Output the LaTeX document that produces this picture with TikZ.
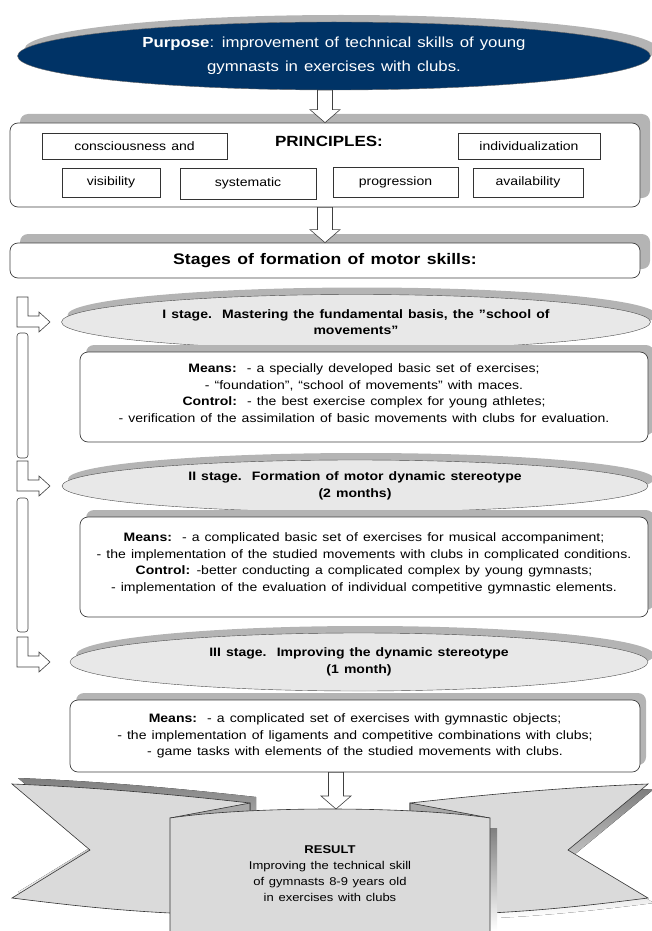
\documentclass[tikz,border=0pt]{standalone}
\usepackage{fontspec}
\setmainfont[FakeStretch=1.15, WordSpace=1.3]{Liberation Sans}
\usetikzlibrary{shapes.geometric, shadows, calc}

\definecolor{navy}{RGB}{0,51,102}
\definecolor{shade}{RGB}{180,180,180}
\definecolor{stagefill}{RGB}{232,232,232}
\definecolor{bannerfill}{RGB}{218,218,218}
\definecolor{foldfill}{RGB}{168,168,168}

\tikzset{
  hollow/.style={draw=black!75, fill=white, line width=0.6pt},
}

% hollow block arrow pointing down
\newcommand{\hollowdown}[2]{%
  \draw[hollow] let \p1=(#1), \p2=(#2) in
    (\x1-7.5pt,\y1) -- (\x1+7.5pt,\y1) -- (\x1+7.5pt,\y2+13pt) -- (\x1+15pt,\y2+13pt)
    -- (\x1,\y2) -- (\x1-15pt,\y2+13pt) -- (\x1-7.5pt,\y2+13pt) -- cycle;}

% elbow arrow on the left pointing to a stage
\newcommand{\elbowarrow}[1]{%
  \draw[hollow] let \p1=(#1.center) in
    (17pt,\y1+25pt) -- (28pt,\y1+25pt) -- (28pt,\y1+6pt) -- (39pt,\y1+6pt) -- (39pt,\y1+10pt)
    -- (50pt,\y1) -- (39pt,\y1-10pt) -- (39pt,\y1-5pt) -- (17pt,\y1-5pt) -- cycle;}

\begin{document}
\begin{tikzpicture}[x=1pt, y=-1pt,
    purpose/.style={ellipse, draw=black!60, fill=navy, text=white, align=center, inner sep=0pt,
      font=\fontsize{14.6}{24}\selectfont,
      drop shadow={shadow xshift=7pt, shadow yshift=7pt, fill=shade, opacity=1}},
    frame/.style={draw=black!75, fill=white, rounded corners=8pt, line width=0.7pt, inner sep=0pt,
      drop shadow={shadow xshift=10pt, shadow yshift=9pt, fill=shade, opacity=1}},
    principle/.style={draw=black!80, fill=white, inner sep=0pt, font=\fontsize{12.2}{15}\selectfont},
    stage/.style={ellipse, draw=black!70, fill=stagefill, align=center, inner sep=0pt,
      font=\bfseries\fontsize{12.2}{16.5}\selectfont,
      drop shadow={shadow xshift=6pt, shadow yshift=7pt, fill=shade, opacity=1}},
    means/.style={draw=black!75, fill=white, rounded corners=8pt, line width=0.7pt, align=center,
      inner sep=0pt, font=\fontsize{12.2}{16.5}\selectfont,
      drop shadow={shadow xshift=6pt, shadow yshift=7pt, fill=shade, opacity=1}},
    bar/.style={draw=black!75, fill=white, rounded corners=3pt, line width=0.6pt}
  ]
  \useasboundingbox (0,0) rectangle (651,931);

  % purpose
  \node[purpose, minimum width=633pt, minimum height=68pt] (purpose) at (334,56)
    {\textbf{Purpose}: improvement of technical skills of young\\gymnasts in exercises with clubs.};

  % principles
  \node[frame, minimum width=630pt, minimum height=84pt] (principles) at (325,165) {};
  \node[font=\bfseries\fontsize{14.8}{16}\selectfont] (principlestitle) at (329,141) {PRINCIPLES:};
  \node[principle, minimum width=185pt, minimum height=26pt] (consc) at (134.5,146) {consciousness and};
  \node[principle, minimum width=142pt, minimum height=26pt] (indiv) at (529,146) {individualization};
  \node[principle, minimum width=98pt, minimum height=29pt] (visib) at (111,182.5) {visibility};
  \node[principle, minimum width=136pt, minimum height=31pt] (system) at (248,183.5) {systematic};
  \node[principle, minimum width=125pt, minimum height=30pt] (progr) at (395.5,182) {progression};
  \node[principle, minimum width=110pt, minimum height=29pt] (avail) at (528,182.5) {availability};

  % stages header
  \node[frame, minimum width=630pt, minimum height=35pt,
    font=\bfseries\fontsize{15.3}{17}\selectfont] (stages) at (325,260.5) {Stages of formation of motor skills:};

  \hollowdown{principles.north |- purpose.south}{principles.north}
  \hollowdown{principles.south}{stages.north}

  % stage I
  \node[stage, minimum width=589pt, minimum height=55pt] (stage1) at (356,322)
    {I stage.\ \ Mastering the fundamental basis, the "school of\\movements"};
  \node[means, minimum width=568pt, minimum height=90pt] (means1) at (364,397)
    {\textbf{Means:}\ \ - a specially developed basic set of exercises;\\
     - “foundation”, “school of movements” with maces.\\
     \textbf{Control:}\ \ - the best exercise complex for young athletes;\\
     - verification of the assimilation of basic movements with clubs for evaluation.\\[-9pt]\mbox{}};

  % stage II
  \node[stage, minimum width=586pt, minimum height=52pt] (stage2) at (355,486)
    {II stage.\ \ Formation of motor dynamic stereotype\\(2 months)};
  \node[means, minimum width=568pt, minimum height=100pt] (means2) at (364,567)
    {\textbf{Means:}\ \ - a complicated basic set of exercises for musical accompaniment;\\
     - the implementation of the studied movements with clubs in complicated conditions.\\
     \textbf{Control:} -better conducting a complicated complex by young gymnasts;\\
     - implementation of the evaluation of individual competitive gymnastic elements.\\[-7pt]\mbox{}};

  % stage III
  \node[stage, minimum width=578pt, minimum height=58pt] (stage3) at (359,662)
    {III stage.\ \ Improving the dynamic stereotype\\(1 month)};
  \node[means, minimum width=570pt, minimum height=72pt] (means3) at (355,736)
    {\textbf{Means:}\ \ - a complicated set of exercises with gymnastic objects;\\
     - the implementation of ligaments and competitive combinations with clubs;\\
     - game tasks with elements of the studied movements with clubs.};

  % left side
  \elbowarrow{stage1}
  \node[bar, minimum width=11pt, minimum height=125pt] (bar1) at (22.5,395.5) {};
  \elbowarrow{stage2}
  \node[bar, minimum width=11pt, minimum height=134pt] (bar2) at (22.5,565) {};
  \elbowarrow{stage3}

  % result banner
  \fill[shade, xshift=6pt, yshift=6pt] (12,784) .. controls (90,787) and (170,794) .. (250,803)
    -- (250,900) -- (170,913) .. controls (110,910) and (60,904) .. (12,898) -- (90,850) -- cycle;
  \fill[shade, xshift=6pt, yshift=-5pt] (648,784) .. controls (570,787) and (490,794) .. (410,803)
    -- (410,900) -- (490,913) .. controls (550,910) and (600,904) .. (648,898) -- (568,850) -- cycle;
  \filldraw[fill=bannerfill, draw=black!80, line width=0.6pt]
    (12,784) .. controls (90,787) and (170,794) .. (250,803)
    -- (250,900) -- (170,913) .. controls (110,910) and (60,904) .. (12,898) -- (90,850) -- cycle;
  \filldraw[fill=bannerfill, draw=black!80, line width=0.6pt]
    (648,784) .. controls (570,787) and (490,794) .. (410,803)
    -- (410,900) -- (490,913) .. controls (550,910) and (600,904) .. (648,898) -- (568,850) -- cycle;
  \fill[shade] (490,828) rectangle (497,931);
  \filldraw[fill=foldfill, draw=black!80, line width=0.6pt] (170,818) -- (250,803) -- (250,812);
  \filldraw[fill=foldfill, draw=black!80, line width=0.6pt] (490,818) -- (410,803) -- (410,812);
  \fill[bannerfill] (170,818) .. controls (250,806) and (410,806) .. (490,818) -- (490,932) -- (170,932) -- cycle;
  \draw[black!80, line width=0.6pt] (170,932) -- (170,818) .. controls (250,806) and (410,806) .. (490,818) -- (490,932);
  \coordinate (bannertop) at (336,809);
  \node[align=center, font=\fontsize{11.3}{16}\selectfont] (result) at (330,874)
    {\textbf{RESULT}\\Improving the technical skill\\of gymnasts 8-9 years old\\in exercises with clubs};

  \hollowdown{means3.south -| bannertop}{bannertop}
\end{tikzpicture}
\end{document}
